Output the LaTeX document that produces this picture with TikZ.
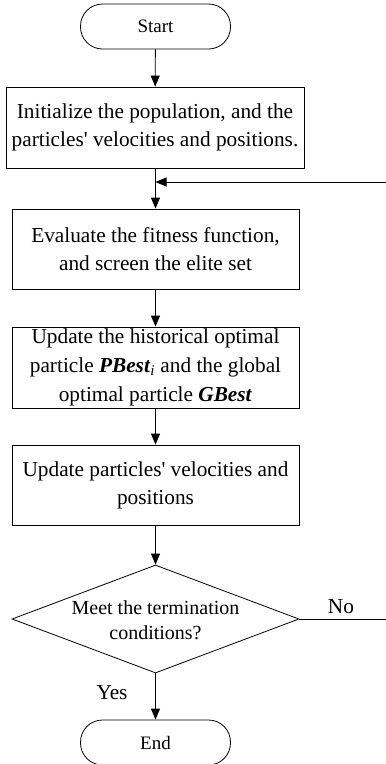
\documentclass[tikz,border=0pt]{standalone}
\usepackage{fontspec}
\setmainfont{Liberation Serif}[Ligatures=TeXOff]
\usetikzlibrary{shapes.geometric,arrows.meta}
\begin{document}
\begin{tikzpicture}[x=1pt,y=-1pt,
  line width=0.8pt,
  term/.style={draw, rounded corners=22pt, minimum width=150pt, minimum height=45pt, inner sep=0pt, font=\fontsize{19}{23}\selectfont},
  proc/.style={draw, minimum width=287pt, minimum height=80pt, inner sep=0pt, align=center, font=\fontsize{21.3}{28}\selectfont},
  dec/.style={draw, diamond, minimum width=287pt, minimum height=108pt, inner sep=0pt},
  lbl/.style={font=\fontsize{21.3}{26}\selectfont, inner sep=0pt},
  flow/.style={-{Triangle[length=11pt,width=9pt]}}
]
\useasboundingbox (0,0) rectangle (386,764);
\node[term] (start) at (155.5,26.5) {Start};
\node[proc, minimum width=298pt, minimum height=81pt] (init) at (155,127.5) {Initialize the population, and the\\particles' velocities and positions.};
\node[proc] (eval) at (155.5,249) {Evaluate the fitness function,\\and screen the elite set};
\node[proc, minimum height=81pt, font=\fontsize{21.3}{29}\selectfont] (upd) at (155.5,367.5) {Update the historical optimal\\particle \textbf{\textit{PBest}}\textsubscript{\textit{i}} and the global\\optimal particle \textbf{\textit{GBest}}};
\node[proc] (vel) at (155.5,485) {Update particles' velocities and\\positions};
\node[dec] (cond) at (155.5,619) {};
\node[align=center, font=\fontsize{20}{25}\selectfont, inner sep=0pt] (condtext) at (155.5,620) {Meet the termination\\conditions?};
\node[term] (end) at (155.5,742.5) {End};
\node[lbl] (no) at (341,607) {No};
\node[lbl] (yes) at (112,693) {Yes};
\coordinate (join) at (155.5,182);
\coordinate (fbR) at (387,619);
\coordinate (fbT) at (387,182);
\draw[flow] (start) -- (init);
\draw (init) -- (join);
\draw[flow] (join) -- (eval);
\draw[flow] (eval) -- (upd);
\draw[flow] (upd) -- (vel);
\draw[flow] (vel) -- (cond);
\draw[flow] (cond) -- (end);
\draw[flow] (cond.east) -- (fbR) -- (fbT) -- (join);
\end{tikzpicture}
\end{document}
